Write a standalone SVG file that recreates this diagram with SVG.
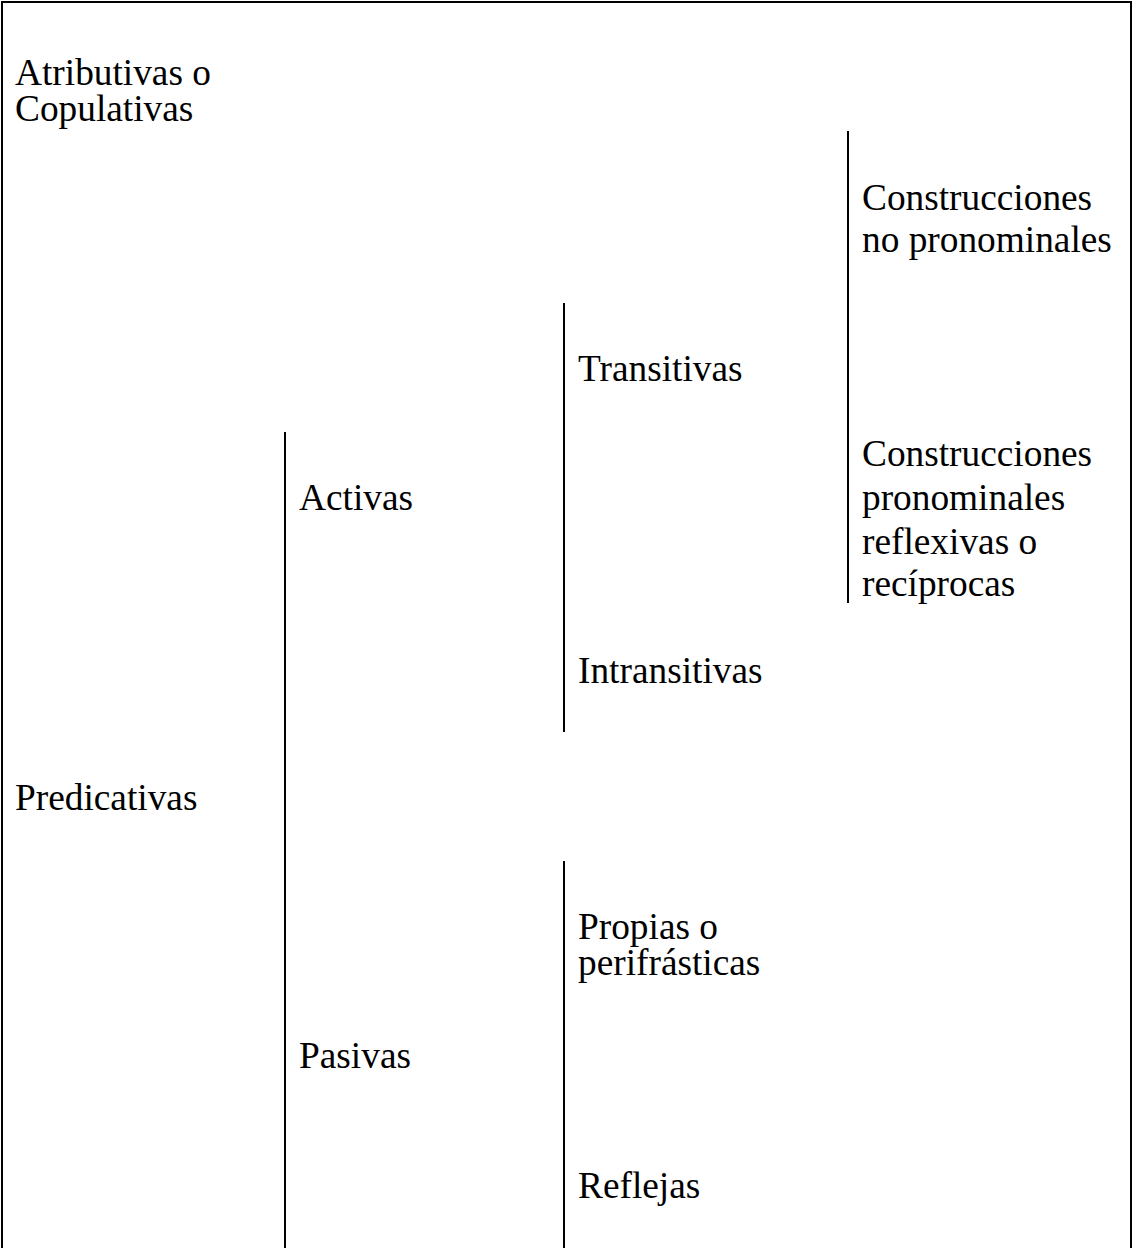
<svg xmlns="http://www.w3.org/2000/svg" width="1133" height="1248" viewBox="0 0 1133 1248">
<style>
text{font-family:"Liberation Serif","Times New Roman",serif;font-size:37.33px;fill:#000}
.ln{stroke:#000;stroke-width:2;fill:none}
</style>
<rect width="1133" height="1248" fill="#fff"/>
<g id="frame">
<path class="ln" d="M2,1248 V2 H1131 V1248"/>
</g>
<g id="connectors">
<line class="ln" x1="285" y1="432" x2="285" y2="1248"/>
<line class="ln" x1="564" y1="303" x2="564" y2="732"/>
<line class="ln" x1="564" y1="861" x2="564" y2="1248"/>
<line class="ln" x1="848" y1="131" x2="848" y2="603"/>
</g>
<g id="atributivas"><text x="15" y="85">Atributivas o</text><text x="15" y="121">Copulativas</text></g>
<g id="predicativas"><text x="15" y="810">Predicativas</text></g>
<g id="activas"><text x="299" y="510">Activas</text></g>
<g id="pasivas"><text x="299" y="1068">Pasivas</text></g>
<g id="transitivas"><text x="578" y="381">Transitivas</text></g>
<g id="intransitivas"><text x="578" y="683">Intransitivas</text></g>
<g id="propias"><text x="578" y="939">Propias o</text><text x="578" y="975">perifrásticas</text></g>
<g id="reflejas"><text x="578" y="1198">Reflejas</text></g>
<g id="no-pronominales"><text x="862" y="210">Construcciones</text><text x="862" y="252">no pronominales</text></g>
<g id="pronominales"><text x="862" y="466">Construcciones</text><text x="862" y="510">pronominales</text><text x="862" y="554">reflexivas o</text><text x="862" y="596">recíprocas</text></g>
</svg>
